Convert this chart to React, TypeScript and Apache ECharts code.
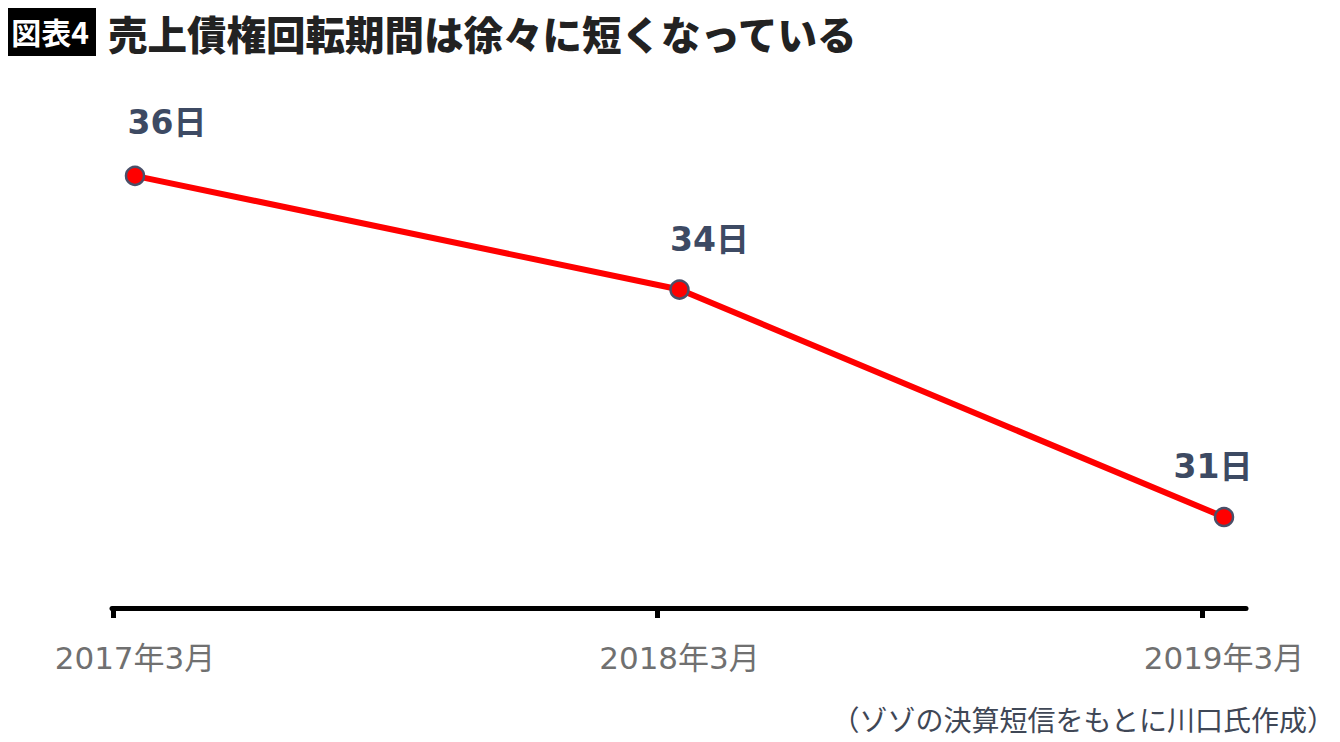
import React, { useEffect, useRef } from "react";
import * as echarts from "echarts";

const categories = ["2017年3月", "2018年3月", "2019年3月"];
const values = [35.5, 34.0, 31.0];
const titleBadge = "図表4";
const titleText = "売上債権回転期間は徐々に短くなっている";
const sourceText = "（ゾゾの決算短信をもとに川口氏作成）";

const FONT = '"Noto Sans CJK JP", "Noto Sans", sans-serif';
const NUMFONT = '"DejaVu Sans", "Noto Sans CJK JP", sans-serif';
const labelOffsets = [
  [32, -2],
  [30, 2],
  [-11, 1],
];

export default function App() {
  const ref = useRef<HTMLDivElement>(null);
  useEffect(() => {
    if (!ref.current) return;
    const chart = echarts.init(ref.current, undefined, { renderer: "svg" });
    const pxPerUnit = 544.5;
    const tickShift = -22 / pxPerUnit;
    const option = {
      animation: false,
      backgroundColor: "#ffffff",
      grid: { left: 112, right: 94, top: 100, bottom: 134 },
      xAxis: {
        type: "value",
        min: -23 / pxPerUnit,
        max: (1246 - 135) / pxPerUnit,
        splitLine: { show: false },
        axisLine: { show: true, lineStyle: { color: "#000000", width: 5 } },
        axisTick: {
          show: true,
          inside: false,
          length: 10,
          lineStyle: { color: "#000000", width: 5 },
          customValues: categories.map((_, i) => i + tickShift),
        },
        axisLabel: {
          show: true,
          customValues: categories.map((_, i) => i),
          formatter: (v: number) => categories[Math.round(v)] ?? "",
          color: "#707070",
          fontSize: 31,
          fontFamily: NUMFONT,
          margin: 34,
        },
      },
      yAxis: {
        type: "value",
        min: 29.8,
        max: 36.5,
        show: false,
        splitLine: { show: false },
      },
      series: [
        {
          type: "line",
          data: values.map((v, i) => ({
            value: [i, v],
            label: { offset: labelOffsets[i] },
          })),
          symbol: "circle",
          symbolSize: 18,
          lineStyle: { color: "#ff0000", width: 6 },
          itemStyle: { color: "#ff0000", borderColor: "#4a4f68", borderWidth: 2.5 },
          label: {
            show: true,
            position: "top",
            distance: 25,
            formatter: (p: any) => `${Math.round(p.value[1])}日`,
            color: "#3d4a63",
            fontSize: 33,
            fontWeight: "bold",
            fontFamily: NUMFONT,
          },
          z: 3,
        },
      ],
      graphic: [
        {
          type: "rect",
          shape: { x: 4, y: 4, width: 92, height: 52 },
          style: { fill: "#000000" },
        },
        {
          type: "text",
          x: 50,
          y: 31,
          style: {
            text: titleBadge,
            fill: "#ffffff",
            font: `bold 30px ${FONT}`,
            textAlign: "center",
            textVerticalAlign: "middle",
          },
        },
        {
          type: "text",
          x: 108,
          y: 32,
          style: {
            text: titleText,
            fill: "#222222",
            font: `900 39.5px ${FONT}`,
            textAlign: "left",
            textVerticalAlign: "middle",
          },
        },
        {
          type: "text",
          x: 1335,
          y: 719,
          style: {
            text: sourceText,
            fill: "#3f4756",
            font: `28px ${FONT}`,
            textAlign: "right",
            textVerticalAlign: "middle",
          },
        },
      ],
    };
    chart.setOption(option as any);
    return () => chart.dispose();
  }, []);
  return <div ref={ref} style={{ width: 1340, height: 742, margin: -8 }} />;
}
